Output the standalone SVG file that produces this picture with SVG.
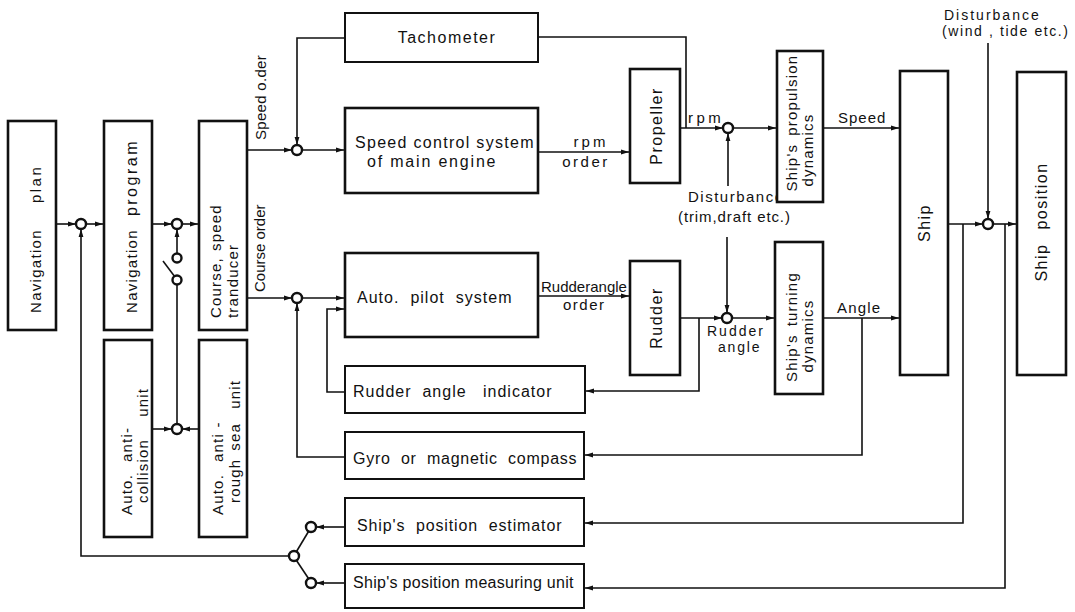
<svg xmlns="http://www.w3.org/2000/svg" width="1075" height="612" viewBox="0 0 1075 612">
<style>
.bx{fill:#fff;stroke:#111;stroke-width:2.6}
.bt{fill:#fff;stroke:#111;stroke-width:2}
.ln{fill:none;stroke:#111;stroke-width:1.6}
.lna{fill:none;stroke:#111;stroke-width:1.6;marker-end:url(#ah)}
.sj{fill:#fff;stroke:#111;stroke-width:2.4}
text{font-family:"Liberation Sans",Arial,sans-serif;fill:#111}
.t16{font-size:16px;letter-spacing:1.5px}
.t15{font-size:15px;letter-spacing:1.2px}
.l15{font-size:15px}
.l14{font-size:14px}
</style>
<defs>
<marker id="ah" viewBox="0 0 8 6" refX="8" refY="3" markerWidth="8" markerHeight="6" markerUnits="userSpaceOnUse" orient="auto"><path d="M0,0.6 L8,3 L0,5.4 z" fill="#111"/></marker>
</defs>
<rect width="1075" height="612" fill="#fff"/>
<g id="connectors">
<path class="lna" d="M57,224 H76"/>
<path class="lna" d="M86,224 H103"/>
<path class="lna" d="M289,556 H81 V229"/>
<path class="lna" d="M152,224 H172"/>
<path class="lna" d="M182,224 H198"/>
<path class="lna" d="M177,253.5 V229"/>
<path class="ln" d="M175,277 L163,261"/>
<path class="ln" d="M177,284.5 V424"/>
<path class="lna" d="M153,429 H172"/>
<path class="lna" d="M199,429 H182"/>
<path class="lna" d="M247,150 H292"/>
<path class="lna" d="M302,150 H344"/>
<path class="lna" d="M345,38 H297 V145"/>
<path class="lna" d="M538,152 H629"/>
<path class="lna" d="M680,128 H723"/>
<path class="ln" d="M538,37 H686 V128"/>
<path class="lna" d="M733,128 H776"/>
<path class="lna" d="M728,186 V133"/>
<path class="lna" d="M823,128 H899"/>
<path class="lna" d="M247,298 H292"/>
<path class="lna" d="M302,298 H344"/>
<path class="lna" d="M345,457 H297 V303"/>
<path class="lna" d="M345,392 H327 V309 H344"/>
<path class="lna" d="M538,296 H629"/>
<path class="lna" d="M680,318 H722"/>
<path class="lna" d="M732,318 H774"/>
<path class="lna" d="M727,237 V313"/>
<path class="lna" d="M699,318 V391 H586"/>
<path class="lna" d="M823,318 H899"/>
<path class="lna" d="M862,318 V455 H585"/>
<path class="lna" d="M948,224 H983"/>
<path class="lna" d="M993,224 H1016"/>
<path class="lna" d="M988,43 V219"/>
<path class="lna" d="M963,224 V523 H585"/>
<path class="lna" d="M1005,224 V588 H585"/>
<path class="lna" d="M344,527 H316"/>
<path class="lna" d="M344,583 H316"/>
<path class="ln" d="M308.5,531.5 L296.5,551.5"/>
<path class="ln" d="M308.5,578.5 L296.5,560.5"/>
</g>
<g id="labels">
<text class="l15" transform="translate(266,140) rotate(-90)" style="letter-spacing:0.3px">Speed o.der</text>
<text class="l15" transform="translate(265,292) rotate(-90)">Course order</text>
<text class="l15" x="591" y="147" text-anchor="middle" style="letter-spacing:3px">rpm</text>
<text class="l15" x="586" y="167" text-anchor="middle" style="letter-spacing:2.5px">order</text>
<text class="l15" x="688" y="123" style="letter-spacing:3.5px">rpm</text>
<text class="l15" x="688" y="202" style="letter-spacing:1.5px">Disturbance</text>
<text class="l15" x="678" y="222" style="letter-spacing:0.9px">(trim,draft etc.)</text>
<text class="l15" x="541" y="292">Rudderangle</text>
<text class="l15" x="563" y="310" style="letter-spacing:1.5px">order</text>
<text class="l14" x="707" y="336" style="letter-spacing:2px">Rudder</text>
<text class="l14" x="718" y="352" style="letter-spacing:1.8px">angle</text>
<text class="l15" x="838" y="123" style="letter-spacing:1px">Speed</text>
<text class="l15" x="837" y="313" style="letter-spacing:1.2px">Angle</text>
<text class="l14" x="944" y="20" style="letter-spacing:2px">Disturbance</text>
<text class="l14" x="942" y="36" style="letter-spacing:1.6px">(wind , tide etc.)</text>
</g>
<g id="nav-plan">
<rect class="bx" x="8" y="121" width="48" height="209"/>
<text class="t15" transform="translate(41,313) rotate(-90)" style="letter-spacing:1.3px">Navigation<tspan dx="26" style="letter-spacing:2.5px">plan</tspan></text>
</g>
<g id="nav-program">
<rect class="bx" x="104" y="121" width="48" height="209"/>
<text class="t15" transform="translate(137,313) rotate(-90)" style="letter-spacing:1.3px">Navigation<tspan dx="13" style="font-size:16px;letter-spacing:2.5px">program</tspan></text>
</g>
<g id="course-speed">
<rect class="bx" x="199" y="121" width="48" height="209"/>
<text class="t15" transform="translate(221,318) rotate(-90)">Course,<tspan dx="6">speed</tspan></text>
<text class="t15" transform="translate(238,318) rotate(-90)">tranducer</text>
</g>
<g id="anti-collision">
<rect class="bx" x="104" y="340" width="48" height="197"/>
<text class="t15" transform="translate(132,515) rotate(-90)">Auto.<tspan dx="12">anti-</tspan></text>
<text class="t15" transform="translate(148,503) rotate(-90)">collision<tspan dx="22">unit</tspan></text>
</g>
<g id="anti-rough-sea">
<rect class="bx" x="199" y="340" width="48" height="197"/>
<text class="t15" transform="translate(223,515) rotate(-90)">Auto.<tspan dx="12">anti -</tspan></text>
<text class="t15" transform="translate(240,503) rotate(-90)">rough<tspan dx="8">sea</tspan><tspan dx="14">unit</tspan></text>
</g>
<g id="tachometer">
<rect class="bt" x="345" y="13" width="193" height="49"/>
<text class="t16" x="447" y="43" text-anchor="middle">Tachometer</text>
</g>
<g id="speed-control">
<rect class="bx" x="345" y="108" width="193" height="85"/>
<text class="t16" x="355" y="148" textLength="180" lengthAdjust="spacing">Speed control system</text>
<text class="t16" x="367" y="167" textLength="130" lengthAdjust="spacing">of main engine</text>
</g>
<g id="propeller">
<rect class="bx" x="630" y="69" width="50" height="114"/>
<text class="t16" transform="translate(662,126) rotate(-90)" text-anchor="middle">Propeller</text>
</g>
<g id="propulsion-dynamics">
<rect class="bx" x="777" y="51" width="46" height="151"/>
<text class="t15" transform="translate(797,123) rotate(-90)" text-anchor="middle">Ship's<tspan dx="8">propulsion</tspan></text>
<text class="t15" transform="translate(813,150) rotate(-90)" text-anchor="middle">dynamics</text>
</g>
<g id="auto-pilot">
<rect class="bx" x="345" y="253" width="193" height="84"/>
<text class="t16" x="357" y="303" textLength="156" lengthAdjust="spacing" xml:space="preserve">Auto.  pilot  system</text>
</g>
<g id="rudder">
<rect class="bx" x="630" y="261" width="50" height="114"/>
<text class="t16" transform="translate(662,318) rotate(-90)" text-anchor="middle">Rudder</text>
</g>
<g id="turning-dynamics">
<rect class="bx" x="775" y="242" width="48" height="152"/>
<text class="t15" transform="translate(797,327) rotate(-90)" text-anchor="middle">Ship's<tspan dx="8">turning</tspan></text>
<text class="t15" transform="translate(813,336) rotate(-90)" text-anchor="middle">dynamics</text>
</g>
<g id="ship">
<rect class="bx" x="900" y="71" width="48" height="304"/>
<text class="t16" transform="translate(930,223) rotate(-90)" text-anchor="middle">Ship</text>
</g>
<g id="ship-position">
<rect class="bx" x="1017" y="72" width="49" height="303"/>
<text class="t16" transform="translate(1047,222) rotate(-90)" text-anchor="middle">Ship<tspan dx="14">position</tspan></text>
</g>
<g id="rudder-angle-indicator">
<rect class="bt" x="345" y="366" width="240" height="47"/>
<text class="t16" x="353" y="397" textLength="200" lengthAdjust="spacing" xml:space="preserve">Rudder  angle   indicator</text>
</g>
<g id="compass">
<rect class="bt" x="345" y="432" width="239" height="47"/>
<text class="t16" x="353" y="464" textLength="225" lengthAdjust="spacing" xml:space="preserve">Gyro  or  magnetic  compass</text>
</g>
<g id="position-estimator">
<rect class="bt" x="345" y="498" width="239" height="48"/>
<text class="t16" x="357" y="531" textLength="206" lengthAdjust="spacing" xml:space="preserve">Ship's  position  estimator</text>
</g>
<g id="position-measuring">
<rect class="bt" x="345" y="564" width="239" height="44"/>
<text class="t16" x="353" y="588" textLength="222" lengthAdjust="spacing">Ship's position measuring unit</text>
</g>
<g id="sum-nav"><circle class="sj" cx="81" cy="224" r="5"/></g>
<g id="sum-program"><circle class="sj" cx="177" cy="224" r="5"/></g>
<g id="switch-upper"><circle class="sj" cx="177" cy="258" r="4.5"/></g>
<g id="switch-lower"><circle class="sj" cx="177" cy="280" r="4.5"/></g>
<g id="sum-anti"><circle class="sj" cx="177" cy="429" r="5"/></g>
<g id="sum-speed"><circle class="sj" cx="297" cy="150" r="5"/></g>
<g id="sum-rpm"><circle class="sj" cx="728" cy="128" r="5"/></g>
<g id="sum-course"><circle class="sj" cx="297" cy="298" r="5"/></g>
<g id="sum-rudder"><circle class="sj" cx="727" cy="318" r="5"/></g>
<g id="sum-ship"><circle class="sj" cx="988" cy="224" r="5"/></g>
<g id="sel-estimator"><circle class="sj" cx="311" cy="527" r="5"/></g>
<g id="sel-measuring"><circle class="sj" cx="311" cy="583" r="5"/></g>
<g id="sel-junction"><circle class="sj" cx="294" cy="556" r="5"/></g>
</svg>
